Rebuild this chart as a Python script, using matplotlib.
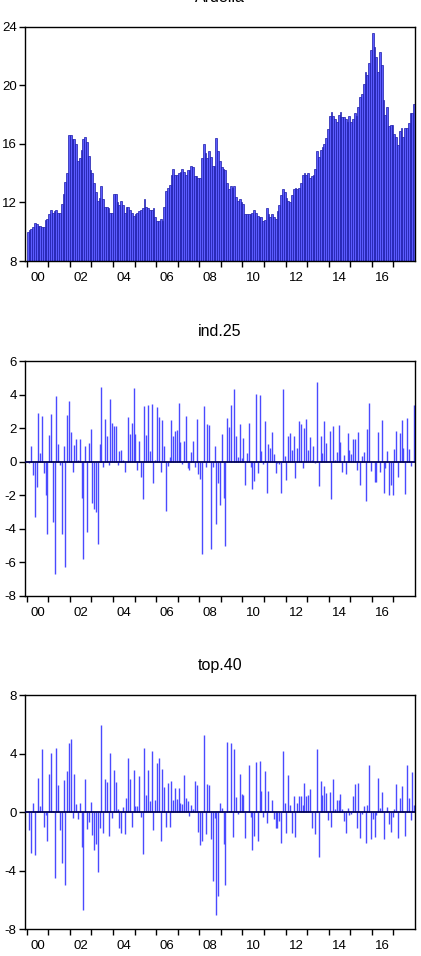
import numpy as np
import matplotlib
matplotlib.use("Agg")
import matplotlib.pyplot as plt
from matplotlib.ticker import FixedLocator, NullFormatter, FixedFormatter

# ---------------- data ----------------
titles = ["Ardelia", "ind.25", "top.40"]
year_labels = ["00", "02", "04", "06", "08", "10", "12", "14", "16"]
label_years = [2000, 2002, 2004, 2006, 2008, 2010, 2012, 2014, 2016]
tick_years = list(range(2000, 2018))

# level series, monthly Jan 2000 - Dec 2017
level = [
    10.0, 10.1, 10.2, 10.3, 10.6, 10.5, 10.4, 10.4, 10.3, 10.3, 10.8, 10.9,
    11.2, 11.5, 11.3, 11.4, 11.5, 11.3, 11.3, 11.9, 12.6, 13.4, 14.0, 16.6,
    16.6, 16.3, 16.3, 16.0, 14.8, 15.0, 15.6, 16.3, 16.5, 16.1, 15.2, 14.2,
    14.0, 13.3, 12.7, 12.1, 12.3, 13.1, 12.2, 11.7, 11.7, 11.6, 11.3, 11.3,
    12.6, 12.6, 12.0, 11.8, 12.1, 11.8, 11.3, 11.7, 11.7, 11.5, 11.3, 11.1,
    11.2, 11.3, 11.4, 11.5, 11.6, 12.2, 11.7, 11.6, 11.5, 11.5, 11.6, 11.0,
    10.7, 10.7, 10.9, 10.7, 11.7, 12.8, 13.0, 13.2, 13.9, 14.3, 13.9, 13.9,
    14.0, 14.1, 14.3, 14.1, 13.9, 14.2, 14.2, 14.5, 14.4, 13.8, 13.8, 13.7,
    13.7, 15.0, 16.0, 15.4, 15.0, 15.5, 15.1, 14.5, 14.5, 16.4, 15.5, 14.8,
    14.4, 14.3, 14.2, 13.3, 12.9, 13.1, 13.0, 13.1, 12.4, 12.1, 12.2, 12.0,
    11.9, 11.2, 11.2, 11.2, 11.2, 11.3, 11.5, 11.3, 11.1, 11.0, 11.0, 10.7,
    10.8, 11.6, 11.2, 11.0, 11.2, 11.0, 10.9, 11.4, 11.8, 12.5, 12.9, 12.7,
    12.3, 12.1, 12.0, 12.5, 12.9, 13.0, 12.9, 13.0, 13.3, 13.9, 14.0, 13.9,
    14.0, 13.7, 13.8, 13.9, 14.3, 15.5, 15.1, 15.6, 15.8, 16.0, 16.4, 17.0,
    17.9, 18.2, 17.9, 17.7, 17.5, 18.0, 18.2, 17.8, 17.8, 17.7, 17.5, 17.9,
    17.5, 17.7, 18.1, 17.9, 18.5, 19.2, 19.4, 20.1, 20.9, 20.7, 21.5, 22.4,
    23.6, 22.6, 21.9, 20.9, 22.3, 21.4, 19.0, 18.0, 18.5, 17.2, 17.3, 17.3,
    16.7, 16.5, 15.9, 16.9, 17.1, 16.5, 17.1, 17.1, 17.4, 18.1, 18.1, 18.7,
]

# monthly changes, Feb 2000 - Dec 2017
ind25 = [
    -0.1, 0.95, -0.8, -3.3, -1.5, 2.9, 0.5, 2.7, -0.7, -2.0,
    -4.3, 1.6, 2.85, -3.6, -6.7, 3.9, 1.05, -0.2, -4.3, 0.95,
    -6.3, 2.8, 3.6, 1.75, -0.6, 1.0, 1.35, 0.1, 1.35, -2.15,
    -5.8, 0.9, -4.2, 1.1, 1.95, -2.5, -2.8, -3.0, -4.9, 1.05,
    4.45, -0.35, 2.55, 1.55, -0.2, 3.75, 2.3, 2.15, 2.15, -0.2,
    0.65, 0.7, 0.1, -0.65, 0.0, 2.65, 1.65, 2.3, 4.4, 1.65,
    -0.5, 1.2, -0.9, -2.25, 3.3, 1.6, 3.4, 0.65, 3.45, -1.3,
    0.1, 3.25, 2.65, -0.65, 2.5, 0.95, -2.95, -0.25, 0.3, 2.5,
    1.55, 1.85, 1.9, 3.5, 1.15, -0.15, 1.2, 2.7, -0.4, -0.5,
    0.6, 1.25, -0.35, 2.55, -0.75, -1.05, -5.5, 3.3, -0.3, 2.25,
    2.2, -5.2, -0.35, 0.95, -3.75, -1.3, -2.6, 1.65, -2.2, -5.05,
    2.6, 2.05, 3.4, 0.0, 4.35, 1.5, 0.25, 2.25, 0.2, 1.4,
    -1.4, 0.5, 2.3, -0.3, -1.65, -1.15, 4.05, -0.7, 4.0, 0.65,
    -0.15, 2.45, -1.85, 1.05, 0.8, 1.75, 0.45, -0.7, -0.1, -0.15,
    -1.85, 4.3, 0.35, -1.1, 1.5, 1.7, 0.7, 1.5, -1.0, 0.8,
    2.45, 2.25, -0.4, 2.0, 2.55, 0.7, 1.45, 0.1, 0.95, -0.1,
    4.75, -1.45, 1.5, 0.5, 2.45, 1.1, 0.0, 1.8, -2.25, 2.15,
    0.1, 0.55, 2.2, 1.15, -0.65, 0.4, -0.75, 1.7, 0.7, 0.45,
    1.35, 1.35, -0.5, 1.75, -1.4, 0.35, 0.6, -2.35, 1.95, 3.5,
    -0.55, 0.0, -1.2, -1.2, 1.75, -0.65, 2.5, -1.85, -0.4, 0.65,
    -2.0, -1.4, -2.0, 0.75, 1.8, -0.9, 1.7, 2.5, 0.8, -1.95,
    2.6, 0.75, -0.25, 0.0, 3.4,
]

top40 = [
    -1.2, -2.8, 0.6, -2.9, 0.05, 2.35, 0.45, 4.3, -1.0, -0.2,
    -2.0, 2.6, 4.05, 0.1, -4.5, 4.35, 1.85, -1.2, -3.5, 2.2,
    -5.0, 2.8, 4.75, 5.0, -0.4, 2.6, 0.55, -0.45, 0.6, -2.4,
    -6.7, 2.25, -1.15, -0.7, 0.7, -1.55, -2.6, -2.15, -4.1, -1.1,
    5.95, -1.45, 2.25, 2.05, -1.6, 4.05, -0.4, 2.9, 2.05, 0.2,
    -1.1, -1.45, 0.35, -1.5, 0.95, 3.7, 2.25, -1.0, 2.9, 0.45,
    0.45, 2.45, -0.35, -2.85, 4.35, 1.15, 2.85, 0.75, 4.2, -1.25,
    0.8, 3.35, 3.7, -1.95, 2.95, 1.75, -1.0, 2.0, -1.0, 2.1,
    0.85, 1.65, 0.9, 1.65, 0.6, 0.55, 2.55, 1.0, 0.75, -0.25,
    0.5, 0.2, 2.1, 1.85, -1.35, -2.25, -1.95, 5.25, -1.5, 1.95,
    1.85, -1.85, -4.7, -0.4, -7.05, -5.7, 0.6, 0.25, -2.15, -5.0,
    4.8, 0.1, 4.7, -1.7, 4.3, 1.05, -0.1, 2.6, 1.25, 1.15,
    -1.75, 0.0, 3.2, -0.3, -2.6, -1.6, 3.45, -1.95, 3.5, 1.45,
    -0.35, 2.8, -0.75, 1.45, 0.1, 0.8, -0.45, -1.1, -1.05, -0.6,
    -2.1, 4.15, 0.6, -1.45, 2.55, 0.5, -1.4, 1.1, -1.7, 0.65,
    1.1, 1.1, 0.5, 2.0, 1.1, 1.15, 1.6, -1.1, 0.0, -1.5,
    4.3, -3.05, 2.15, 1.2, 1.8, 1.3, -0.55, 1.4, -1.0, 2.25,
    0.2, 0.8, 0.85, 1.25, 0.2, -0.6, -1.45, 0.25, -0.2, -0.15,
    1.1, 1.95, -1.1, 2.0, -1.75, -0.1, 0.4, -2.1, 0.5, 3.2,
    -1.85, -0.5, -1.7, -0.2, 2.3, 0.3, 1.4, -1.85, 0.0, 0.35,
    -0.8, -1.35, -0.35, 0.2, 1.95, -1.75, 1.0, 1.8, 0.1, -1.65,
    3.2, 1.0, -0.55, 2.75, 0.5,
]

ylims = [(8, 24), (-8, 6), (-8, 8)]
yticks = [[8, 12, 16, 20, 24], [-8, -6, -4, -2, 0, 2, 4, 6], [-8, -4, 0, 4, 8]]

# ---------------- plotting ----------------
plt.rcParams['font.family'] = ['Liberation Sans', 'DejaVu Sans']

fig = plt.figure(figsize=(4.21, 9.56), dpi=100)
W, H = 421, 956
left, right = 25, 415
tops = [26.7, 361, 695]
bots = [261, 595.7, 929.3]

fill_c = '#5c5cff'
edge_c = '#1a1aa8'
spike_c = '#4a4aff'

for k in range(3):
    ax = fig.add_axes([left / W, 1 - bots[k] / H, (right - left) / W, (bots[k] - tops[k]) / H])
    if k == 0:
        vals = np.array(level)
        x = 2000 + (np.arange(len(vals)) + 0.5) / 12.0
        ax.bar(x, vals, width=1 / 12.0, color=fill_c, edgecolor=edge_c, linewidth=0.5)
    else:
        vals = np.array(ind25 if k == 1 else top40)
        x = 2000 + (np.arange(len(vals)) + 1.5) / 12.0
        ax.vlines(x, 0, vals, color=spike_c, linewidth=1.0)
        ax.axhline(0, color='#000055', linewidth=1.3, zorder=3)

    ax.set_xlim(1999.92, 2018.0)
    ax.set_ylim(*ylims[k])
    ax.set_yticks(yticks[k])
    ax.set_yticklabels([str(v) for v in yticks[k]])

    ax.xaxis.set_major_locator(FixedLocator(tick_years))
    ax.xaxis.set_major_formatter(NullFormatter())
    ax.xaxis.set_minor_locator(FixedLocator([y + 0.5 for y in label_years]))
    ax.xaxis.set_minor_formatter(FixedFormatter(year_labels))
    ax.tick_params(axis='x', which='major', direction='out', length=4, width=1, bottom=True, top=False)
    ax.tick_params(axis='x', which='minor', length=0, pad=8, labelsize=9.5)
    ax.tick_params(axis='y', which='major', direction='out', length=4, width=1, left=True, right=False,
                   labelsize=9.5, pad=2)
    for s in ax.spines.values():
        s.set_linewidth(1.0)
        s.set_color('black')
    ax.set_title(titles[k], fontsize=11.5, pad=18)

fig.savefig('out.png', dpi=100)
